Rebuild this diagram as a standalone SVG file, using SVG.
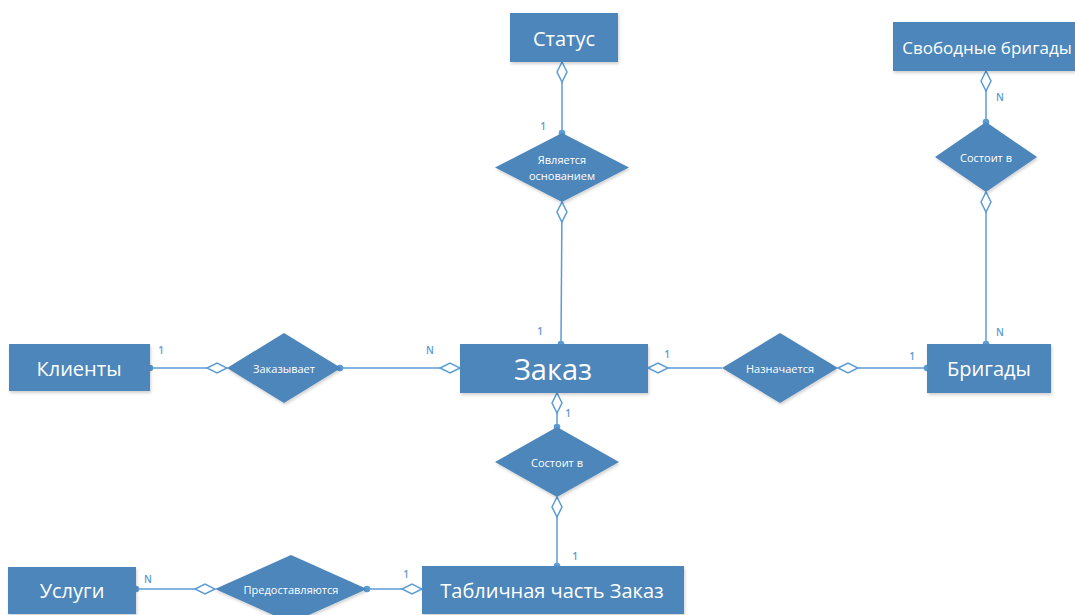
<svg xmlns="http://www.w3.org/2000/svg" width="1075" height="615" viewBox="0 0 1075 615">
  <style>
    .ent { fill: #4E86BA; filter: url(#sh); }
    .rel { fill: #4E86BA; filter: url(#sh); }
    .et { fill: #ffffff; font-family: "Open Sans", "Noto Sans", sans-serif; font-size: 20px; text-anchor: middle; dominant-baseline: central; }
    .rt { fill: #ffffff; font-family: "Open Sans", "Noto Sans", sans-serif; font-size: 11px; text-anchor: middle; dominant-baseline: central; }
    .ln { stroke: #5B9BD5; stroke-width: 1.5; fill: none; }
    .card { fill: #5B9BD5; font-family: "Open Sans", "Noto Sans", sans-serif; font-size: 10px; font-weight: 600; text-anchor: middle; }
    .dia { marker-start: url(#diamond); }
    .dot { marker-end: url(#dot); }
  </style>
  <defs>
    <filter id="sh" x="-10%" y="-10%" width="130%" height="140%">
      <feDropShadow dx="1" dy="2" stdDeviation="1.5" flood-color="#000000" flood-opacity="0.18"/>
    </filter>
    <marker id="diamond" markerUnits="userSpaceOnUse" markerWidth="24" markerHeight="14" refX="1" refY="7" orient="auto" viewBox="0 0 24 14">
      <path d="M1,7 L11,2 L21,7 L11,12 Z" fill="#ffffff" stroke="#5B9BD5" stroke-width="1.5"/>
    </marker>
    <marker id="dot" markerUnits="userSpaceOnUse" markerWidth="8" markerHeight="8" refX="4" refY="4" orient="auto" viewBox="0 0 8 8">
      <circle cx="4" cy="4" r="3.3" fill="#5B9BD5"/>
    </marker>
  </defs>
  <rect width="1075" height="615" fill="#ffffff"/>

  <g id="connectors">
    <path class="ln dia dot" d="M562,62 L562,133"/>
    <path class="ln dia dot" d="M562,202 L561,344"/>
    <path class="ln dia dot" d="M986,71 L986,122"/>
    <path class="ln dia dot" d="M986,192 L986,344"/>
    <path class="ln dia dot" d="M227,368 L150,368"/>
    <path class="ln dia dot" d="M460,368 L340,368"/>
    <path class="ln dia" d="M648,368 L722,368"/>
    <path class="ln dia dot" d="M838,368 L927,368"/>
    <path class="ln dia dot" d="M557,393 L557,427"/>
    <path class="ln dia dot" d="M557,497 L557,566"/>
    <path class="ln dia dot" d="M215,589 L136,589"/>
    <path class="ln dia dot" d="M422,589 L367,589"/>
  </g>

  <g id="cardinalities">
    <text class="card" x="543" y="130">1</text>
    <text class="card" x="540" y="335">1</text>
    <text class="card" x="1000" y="101">N</text>
    <text class="card" x="1000" y="336">N</text>
    <text class="card" x="161" y="354">1</text>
    <text class="card" x="430" y="354">N</text>
    <text class="card" x="667" y="358">1</text>
    <text class="card" x="912" y="360">1</text>
    <text class="card" x="568" y="417">1</text>
    <text class="card" x="575" y="560">1</text>
    <text class="card" x="148" y="583">N</text>
    <text class="card" x="406" y="578">1</text>
  </g>

  <g id="status">
    <rect class="ent" x="510" y="13" width="108" height="49"/>
    <text class="et" x="564" y="38">Статус</text>
  </g>
  <g id="free-brigades">
    <rect class="ent" x="893" y="22" width="182" height="49"/>
    <text class="et" x="987" y="47" style="font-size:17px">Свободные бригады</text>
  </g>
  <g id="clients">
    <rect class="ent" x="9" y="344" width="141" height="47"/>
    <text class="et" x="79" y="368">Клиенты</text>
  </g>
  <g id="order">
    <rect class="ent" x="460" y="344" width="188" height="49"/>
    <text class="et" x="553" y="368" style="font-size:29px">Заказ</text>
  </g>
  <g id="brigades">
    <rect class="ent" x="927" y="344" width="124" height="49"/>
    <text class="et" x="989" y="368">Бригады</text>
  </g>
  <g id="services">
    <rect class="ent" x="8" y="567" width="128" height="47"/>
    <text class="et" x="72" y="590">Услуги</text>
  </g>
  <g id="order-lines">
    <rect class="ent" x="422" y="566" width="262" height="48"/>
    <text class="et" x="552" y="590">Табличная часть Заказ</text>
  </g>

  <g id="rel-basis">
    <polygon class="rel" points="562,133 629,167.5 562,202 495,167.5"/>
    <text class="rt" x="562" y="159">Является</text>
    <text class="rt" x="562" y="175">основанием</text>
  </g>
  <g id="rel-consists-brigade">
    <polygon class="rel" points="986,122 1037,157 986,192 935,157"/>
    <text class="rt" x="986" y="157">Состоит в</text>
  </g>
  <g id="rel-orders">
    <polygon class="rel" points="284,333 341,368 284,403 227,368"/>
    <text class="rt" x="284" y="368">Заказывает</text>
  </g>
  <g id="rel-assigned">
    <polygon class="rel" points="780,333 838,368 780,403 722,368"/>
    <text class="rt" x="780" y="368">Назначается</text>
  </g>
  <g id="rel-consists-order">
    <polygon class="rel" points="557,427 619,462 557,497 495,462"/>
    <text class="rt" x="557" y="462">Состоит в</text>
  </g>
  <g id="rel-provided">
    <polygon class="rel" points="291,555 367,589 291,623 215,589"/>
    <text class="rt" x="291" y="589">Предоставляются</text>
  </g>
</svg>
